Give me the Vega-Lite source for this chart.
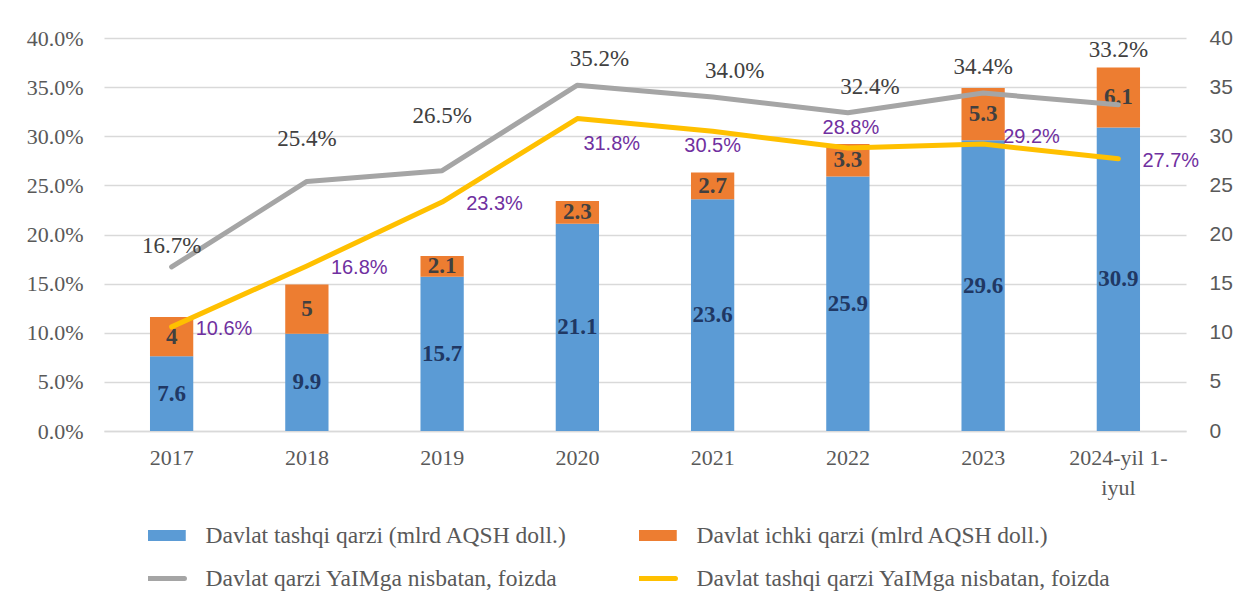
{
  "$schema": "https://vega.github.io/schema/vega-lite/v6.json",
  "width": 1082,
  "height": 393,
  "autosize": {"type": "none"},
  "padding": {"left": 104, "top": 38, "right": 56, "bottom": 173},
  "background": "white",
  "config": {"view": {"stroke": null}, "font": "Liberation Serif", "legend": {"labelFont": "Liberation Serif"}},
  "datasets": {
    "bars": [
      {"year": "2017", "series": "Davlat tashqi qarzi (mlrd AQSH doll.)", "value": 7.6},
      {"year": "2017", "series": "Davlat ichki qarzi (mlrd AQSH doll.)", "value": 4},
      {"year": "2018", "series": "Davlat tashqi qarzi (mlrd AQSH doll.)", "value": 9.9},
      {"year": "2018", "series": "Davlat ichki qarzi (mlrd AQSH doll.)", "value": 5},
      {"year": "2019", "series": "Davlat tashqi qarzi (mlrd AQSH doll.)", "value": 15.7},
      {"year": "2019", "series": "Davlat ichki qarzi (mlrd AQSH doll.)", "value": 2.1},
      {"year": "2020", "series": "Davlat tashqi qarzi (mlrd AQSH doll.)", "value": 21.1},
      {"year": "2020", "series": "Davlat ichki qarzi (mlrd AQSH doll.)", "value": 2.3},
      {"year": "2021", "series": "Davlat tashqi qarzi (mlrd AQSH doll.)", "value": 23.6},
      {"year": "2021", "series": "Davlat ichki qarzi (mlrd AQSH doll.)", "value": 2.7},
      {"year": "2022", "series": "Davlat tashqi qarzi (mlrd AQSH doll.)", "value": 25.9},
      {"year": "2022", "series": "Davlat ichki qarzi (mlrd AQSH doll.)", "value": 3.3},
      {"year": "2023", "series": "Davlat tashqi qarzi (mlrd AQSH doll.)", "value": 29.6},
      {"year": "2023", "series": "Davlat ichki qarzi (mlrd AQSH doll.)", "value": 5.3},
      {"year": "2024-yil 1-iyul", "series": "Davlat tashqi qarzi (mlrd AQSH doll.)", "value": 30.9},
      {"year": "2024-yil 1-iyul", "series": "Davlat ichki qarzi (mlrd AQSH doll.)", "value": 6.1}
    ],
    "lines": [
      {"year": "2017", "series": "Davlat qarzi YaIMga nisbatan, foizda", "pct": 0.167},
      {"year": "2018", "series": "Davlat qarzi YaIMga nisbatan, foizda", "pct": 0.254},
      {"year": "2019", "series": "Davlat qarzi YaIMga nisbatan, foizda", "pct": 0.265},
      {"year": "2020", "series": "Davlat qarzi YaIMga nisbatan, foizda", "pct": 0.352},
      {"year": "2021", "series": "Davlat qarzi YaIMga nisbatan, foizda", "pct": 0.340},
      {"year": "2022", "series": "Davlat qarzi YaIMga nisbatan, foizda", "pct": 0.324},
      {"year": "2023", "series": "Davlat qarzi YaIMga nisbatan, foizda", "pct": 0.344},
      {"year": "2024-yil 1-iyul", "series": "Davlat qarzi YaIMga nisbatan, foizda", "pct": 0.332},
      {"year": "2017", "series": "Davlat tashqi qarzi YaIMga nisbatan, foizda", "pct": 0.106},
      {"year": "2018", "series": "Davlat tashqi qarzi YaIMga nisbatan, foizda", "pct": 0.168},
      {"year": "2019", "series": "Davlat tashqi qarzi YaIMga nisbatan, foizda", "pct": 0.233},
      {"year": "2020", "series": "Davlat tashqi qarzi YaIMga nisbatan, foizda", "pct": 0.318},
      {"year": "2021", "series": "Davlat tashqi qarzi YaIMga nisbatan, foizda", "pct": 0.305},
      {"year": "2022", "series": "Davlat tashqi qarzi YaIMga nisbatan, foizda", "pct": 0.288},
      {"year": "2023", "series": "Davlat tashqi qarzi YaIMga nisbatan, foizda", "pct": 0.292},
      {"year": "2024-yil 1-iyul", "series": "Davlat tashqi qarzi YaIMga nisbatan, foizda", "pct": 0.277}
    ]
  },
  "encoding": {
    "x": {
      "field": "year",
      "type": "nominal",
      "sort": null,
      "scale": {"paddingInner": 0.68, "paddingOuter": 0.34},
      "axis": {
        "title": null,
        "labelAngle": 0,
        "ticks": false,
        "domain": true,
        "domainColor": "#D9D9D9",
        "domainWidth": 1.5,
        "labelFont": "Liberation Serif",
        "labelFontSize": 22,
        "labelColor": "#595959",
        "labelPadding": 16,
        "labelLineHeight": 30,
        "labelExpr": "datum.value == '2024-yil 1-iyul' ? ['2024-yil 1-', 'iyul'] : datum.label"
      }
    }
  },
  "layer": [
    {
      "data": {"name": "bars"},
      "mark": {"type": "bar"},
      "encoding": {
        "y": {
          "field": "value",
          "type": "quantitative",
          "stack": "zero",
          "scale": {"domain": [0, 40], "nice": false},
          "axis": {
            "orient": "right",
            "title": null,
            "values": [0, 5, 10, 15, 20, 25, 30, 35, 40],
            "grid": false,
            "domain": false,
            "ticks": false,
            "labelFont": "Liberation Sans",
            "labelFontSize": 21,
            "labelColor": "#595959",
            "labelPadding": 23
          }
        },
        "color": {
          "field": "series",
          "type": "nominal",
          "scale": {
            "domain": [
              "Davlat tashqi qarzi (mlrd AQSH doll.)",
              "Davlat ichki qarzi (mlrd AQSH doll.)",
              "Davlat qarzi YaIMga nisbatan, foizda",
              "Davlat tashqi qarzi YaIMga nisbatan, foizda"
            ],
            "range": ["#5B9BD5", "#ED7D31", "#A5A5A5", "#FFC000"]
          },
          "legend": {
            "orient": "none",
            "direction": "horizontal",
            "legendX": 44,
            "legendY": 487,
            "columns": 2,
            "columnPadding": 71,
            "rowPadding": 19,
            "padding": 0,
            "title": null,
            "labelFont": "Liberation Serif",
            "labelFontSize": 23.5,
            "labelColor": "#595959",
            "labelOffset": 34,
            "labelLimit": 600,
            "symbolSize": 2704,
            "clipHeight": 21,
            "encode": {
              "symbols": {
                "update": {
                  "shape": {"signal": "test(/mlrd/, datum.value) ? 'M-1,-0.21L1,-0.21L1,0.21L-1,0.21Z' : 'M-0.95,0L0.95,0'"},
                  "fill": {"scale": "color", "field": "value"},
                  "stroke": {"scale": "color", "field": "value"},
                  "strokeWidth": {"signal": "test(/mlrd/, datum.value) ? 0 : 5"},
                  "strokeCap": {"value": "round"},
                  "opacity": {"value": 1},
                  "fillOpacity": {"value": 1},
                  "strokeOpacity": {"value": 1}
                }
              }
            }
          }
        },
        "order": {"field": "series", "sort": "descending"}
      }
    },
    {
      "data": {"name": "bars"},
      "transform": [
        {"stack": "value", "groupby": ["year"], "sort": [{"field": "series", "order": "descending"}], "as": ["v0", "v1"]},
        {"calculate": "(datum.v0 + datum.v1) / 2", "as": "mid"}
      ],
      "mark": {"type": "text", "font": "Liberation Serif", "fontWeight": "bold", "fontSize": 23, "baseline": "middle"},
      "encoding": {
        "y": {"field": "mid", "type": "quantitative", "scale": {"domain": [0, 40], "nice": false}, "axis": null},
        "text": {"field": "value", "type": "quantitative"},
        "color": {
          "condition": {"test": "datum.series == 'Davlat tashqi qarzi (mlrd AQSH doll.)'", "value": "#203864"},
          "value": "#404040"
        }
      }
    },
    {
      "data": {"name": "lines"},
      "mark": {"type": "line", "strokeWidth": 5, "strokeCap": "round", "strokeJoin": "round"},
      "encoding": {
        "y": {
          "field": "pct",
          "type": "quantitative",
          "scale": {"domain": [0, 0.4], "nice": false},
          "axis": {
            "orient": "left",
            "title": null,
            "values": [0, 0.05, 0.1, 0.15, 0.2, 0.25, 0.3, 0.35, 0.4],
            "format": ".1%",
            "grid": true,
            "gridColor": "#D9D9D9",
            "gridWidth": 1.5,
            "domain": false,
            "ticks": false,
            "labelFont": "Liberation Serif",
            "labelFontSize": 22,
            "labelColor": "#595959",
            "labelPadding": 21
          }
        },
        "color": {"field": "series", "type": "nominal"}
      }
    },
    {
      "data": {"name": "lines"},
      "transform": [
        {"filter": "datum.series == 'Davlat qarzi YaIMga nisbatan, foizda'"},
        {"filter": {"field": "year", "oneOf": ["2017"]}}
      ],
      "mark": {"type": "text", "font": "Liberation Serif", "fontSize": 23, "color": "#404040", "dy": -21},
      "encoding": {
        "y": {"field": "pct", "type": "quantitative", "scale": {"domain": [0, 0.4], "nice": false}, "axis": null},
        "text": {"field": "pct", "type": "quantitative", "format": ".1%"}
      }
    },
    {
      "data": {"name": "lines"},
      "transform": [
        {"filter": "datum.series == 'Davlat qarzi YaIMga nisbatan, foizda'"},
        {"filter": {"field": "year", "oneOf": ["2023"]}}
      ],
      "mark": {"type": "text", "font": "Liberation Serif", "fontSize": 23, "color": "#404040", "dy": -26},
      "encoding": {
        "y": {"field": "pct", "type": "quantitative", "scale": {"domain": [0, 0.4], "nice": false}, "axis": null},
        "text": {"field": "pct", "type": "quantitative", "format": ".1%"}
      }
    },
    {
      "data": {"name": "lines"},
      "transform": [
        {"filter": "datum.series == 'Davlat qarzi YaIMga nisbatan, foizda'"},
        {"filter": {"field": "year", "oneOf": ["2018"]}}
      ],
      "mark": {"type": "text", "font": "Liberation Serif", "fontSize": 23, "color": "#404040", "dy": -42},
      "encoding": {
        "y": {"field": "pct", "type": "quantitative", "scale": {"domain": [0, 0.4], "nice": false}, "axis": null},
        "text": {"field": "pct", "type": "quantitative", "format": ".1%"}
      }
    },
    {
      "data": {"name": "lines"},
      "transform": [
        {"filter": "datum.series == 'Davlat qarzi YaIMga nisbatan, foizda'"},
        {"filter": {"field": "year", "oneOf": ["2019", "2024-yil 1-iyul"]}}
      ],
      "mark": {"type": "text", "font": "Liberation Serif", "fontSize": 23, "color": "#404040", "dy": -55},
      "encoding": {
        "y": {"field": "pct", "type": "quantitative", "scale": {"domain": [0, 0.4], "nice": false}, "axis": null},
        "text": {"field": "pct", "type": "quantitative", "format": ".1%"}
      }
    },
    {
      "data": {"name": "lines"},
      "transform": [
        {"filter": "datum.series == 'Davlat qarzi YaIMga nisbatan, foizda'"},
        {"filter": {"field": "year", "oneOf": ["2020", "2021", "2022"]}}
      ],
      "mark": {"type": "text", "font": "Liberation Serif", "fontSize": 23, "color": "#404040", "dx": 22, "dy": -26},
      "encoding": {
        "y": {"field": "pct", "type": "quantitative", "scale": {"domain": [0, 0.4], "nice": false}, "axis": null},
        "text": {"field": "pct", "type": "quantitative", "format": ".1%"}
      }
    },
    {
      "data": {"name": "lines"},
      "transform": [
        {"filter": "datum.series == 'Davlat tashqi qarzi YaIMga nisbatan, foizda'"},
        {"filter": {"field": "year", "oneOf": ["2017", "2018", "2019", "2024-yil 1-iyul"]}}
      ],
      "mark": {"type": "text", "font": "Liberation Sans", "fontSize": 20, "color": "#7030A0", "align": "left", "dx": 24, "dy": 2},
      "encoding": {
        "y": {"field": "pct", "type": "quantitative", "scale": {"domain": [0, 0.4], "nice": false}, "axis": null},
        "text": {"field": "pct", "type": "quantitative", "format": ".1%"}
      }
    },
    {
      "data": {"name": "lines"},
      "transform": [
        {"filter": "datum.series == 'Davlat tashqi qarzi YaIMga nisbatan, foizda'"},
        {"filter": {"field": "year", "oneOf": ["2023"]}}
      ],
      "mark": {"type": "text", "font": "Liberation Sans", "fontSize": 20, "color": "#7030A0", "align": "left", "dx": 20, "dy": -7},
      "encoding": {
        "y": {"field": "pct", "type": "quantitative", "scale": {"domain": [0, 0.4], "nice": false}, "axis": null},
        "text": {"field": "pct", "type": "quantitative", "format": ".1%"}
      }
    },
    {
      "data": {"name": "lines"},
      "transform": [
        {"filter": "datum.series == 'Davlat tashqi qarzi YaIMga nisbatan, foizda'"},
        {"filter": {"field": "year", "oneOf": ["2020"]}}
      ],
      "mark": {"type": "text", "font": "Liberation Sans", "fontSize": 20, "color": "#7030A0", "align": "left", "dx": 6, "dy": 25},
      "encoding": {
        "y": {"field": "pct", "type": "quantitative", "scale": {"domain": [0, 0.4], "nice": false}, "axis": null},
        "text": {"field": "pct", "type": "quantitative", "format": ".1%"}
      }
    },
    {
      "data": {"name": "lines"},
      "transform": [
        {"filter": "datum.series == 'Davlat tashqi qarzi YaIMga nisbatan, foizda'"},
        {"filter": {"field": "year", "oneOf": ["2021"]}}
      ],
      "mark": {"type": "text", "font": "Liberation Sans", "fontSize": 20, "color": "#7030A0", "dy": 15},
      "encoding": {
        "y": {"field": "pct", "type": "quantitative", "scale": {"domain": [0, 0.4], "nice": false}, "axis": null},
        "text": {"field": "pct", "type": "quantitative", "format": ".1%"}
      }
    },
    {
      "data": {"name": "lines"},
      "transform": [
        {"filter": "datum.series == 'Davlat tashqi qarzi YaIMga nisbatan, foizda'"},
        {"filter": {"field": "year", "oneOf": ["2022"]}}
      ],
      "mark": {"type": "text", "font": "Liberation Sans", "fontSize": 20, "color": "#7030A0", "dx": 3, "dy": -20},
      "encoding": {
        "y": {"field": "pct", "type": "quantitative", "scale": {"domain": [0, 0.4], "nice": false}, "axis": null},
        "text": {"field": "pct", "type": "quantitative", "format": ".1%"}
      }
    }
  ],
  "resolve": {"scale": {"y": "independent"}}
}
